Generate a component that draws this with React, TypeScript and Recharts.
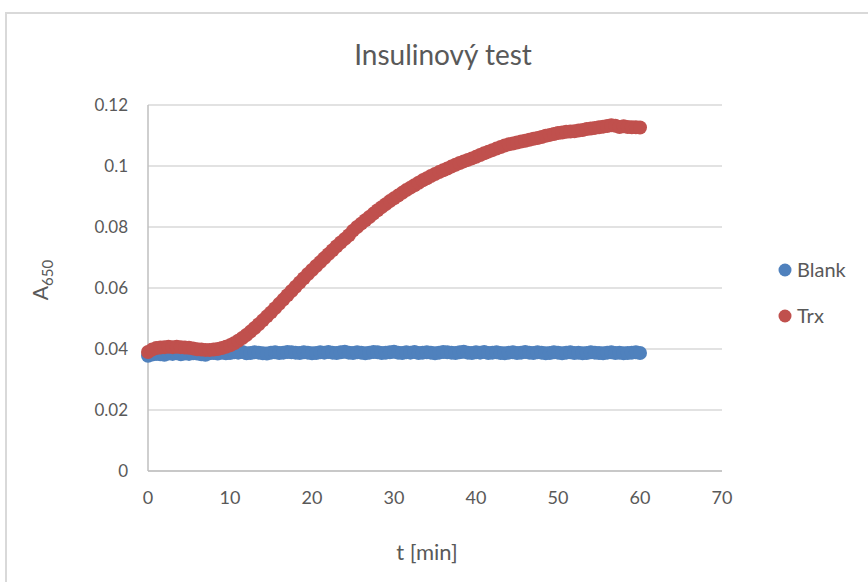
import React from 'react';
import { ScatterChart, Scatter, XAxis, YAxis, CartesianGrid } from 'recharts';

const COLORS = {
  blank: '#4f81bd',
  trx: '#c0504d',
  text: '#595959',
  grid: '#d9d9d9',
  axis: '#bfbfbf',
};

const FONT = 'Lato, "Open Sans", sans-serif';

const TIME = [
  0, 0.5, 1, 1.5, 2, 2.5, 3, 3.5, 4, 4.5, 5, 5.5, 6, 6.5, 7, 7.5, 8, 8.5, 9, 9.5,
  10, 10.5, 11, 11.5, 12, 12.5, 13, 13.5, 14, 14.5, 15, 15.5, 16, 16.5, 17, 17.5, 18, 18.5, 19, 19.5,
  20, 20.5, 21, 21.5, 22, 22.5, 23, 23.5, 24, 24.5, 25, 25.5, 26, 26.5, 27, 27.5, 28, 28.5, 29, 29.5,
  30, 30.5, 31, 31.5, 32, 32.5, 33, 33.5, 34, 34.5, 35, 35.5, 36, 36.5, 37, 37.5, 38, 38.5, 39, 39.5,
  40, 40.5, 41, 41.5, 42, 42.5, 43, 43.5, 44, 44.5, 45, 45.5, 46, 46.5, 47, 47.5, 48, 48.5, 49, 49.5,
  50, 50.5, 51, 51.5, 52, 52.5, 53, 53.5, 54, 54.5, 55, 55.5, 56, 56.5, 57, 57.5, 58, 58.5, 59, 59.5,
  60,
];

const BLANK = [
  0.0378, 0.0382, 0.0384, 0.0383, 0.0381, 0.0385, 0.0384, 0.0386, 0.0383, 0.0385, 0.0384, 0.0386, 0.0385, 0.0383, 0.0381, 0.0386, 0.0387, 0.0385, 0.0388, 0.0386,
  0.0387, 0.0389, 0.0388, 0.0390, 0.0386, 0.0387, 0.0389, 0.0388, 0.0386, 0.0385, 0.0388, 0.0389, 0.0387, 0.0388, 0.0390, 0.0389, 0.0388, 0.0387, 0.0389, 0.0388,
  0.0386, 0.0387, 0.0389, 0.0388, 0.0390, 0.0388, 0.0387, 0.0389, 0.0391, 0.0388, 0.0387, 0.0389, 0.0388, 0.0386, 0.0388, 0.0390, 0.0389, 0.0387, 0.0388, 0.0389,
  0.0391, 0.0388, 0.0387, 0.0389, 0.0388, 0.0390, 0.0387, 0.0388, 0.0389, 0.0388, 0.0386, 0.0388, 0.0390, 0.0389, 0.0388, 0.0387, 0.0389, 0.0391, 0.0388, 0.0387,
  0.0389, 0.0388, 0.0390, 0.0387, 0.0388, 0.0389, 0.0387, 0.0386, 0.0388, 0.0389, 0.0387, 0.0388, 0.0390, 0.0388, 0.0387, 0.0389, 0.0388, 0.0386, 0.0387, 0.0389,
  0.0388, 0.0386, 0.0388, 0.0389, 0.0387, 0.0388, 0.0386, 0.0387, 0.0389, 0.0388, 0.0387, 0.0386, 0.0388, 0.0389, 0.0387, 0.0388, 0.0386, 0.0387, 0.0388, 0.0389,
  0.0387,
];

const TRX = [
  0.0390, 0.0398, 0.0403, 0.0405, 0.0406, 0.0407, 0.0406, 0.0407, 0.0406, 0.0405, 0.0404, 0.0402, 0.0399, 0.0398, 0.0397, 0.0397, 0.0398, 0.0400, 0.0403, 0.0407,
  0.0412, 0.0419, 0.0427, 0.0436, 0.0446, 0.0457, 0.0469, 0.0481, 0.0494, 0.0507, 0.0520, 0.0534, 0.0548, 0.0562, 0.0576, 0.0590, 0.0604, 0.0618, 0.0632, 0.0646,
  0.0659, 0.0672, 0.0685, 0.0698, 0.0711, 0.0724, 0.0737, 0.0749, 0.0761, 0.0773, 0.0788, 0.0800, 0.0811, 0.0822, 0.0833, 0.0844, 0.0855, 0.0865, 0.0875, 0.0885,
  0.0894, 0.0903, 0.0912, 0.0921, 0.0929, 0.0937, 0.0945, 0.0953, 0.0960, 0.0967, 0.0974, 0.0980, 0.0986, 0.0992, 0.0998, 0.1004, 0.1010, 0.1015, 0.1020, 0.1025,
  0.1030, 0.1036, 0.1042, 0.1047, 0.1052, 0.1057, 0.1062, 0.1067, 0.1071, 0.1074, 0.1077, 0.1080, 0.1083, 0.1086, 0.1089, 0.1092, 0.1095, 0.1099, 0.1102, 0.1105,
  0.1108, 0.1110, 0.1112, 0.1113, 0.1114, 0.1116, 0.1118, 0.1121, 0.1123, 0.1125, 0.1127, 0.1129, 0.1131, 0.1134, 0.1132, 0.1128, 0.1130, 0.1128, 0.1127, 0.1127,
  0.1126,
];

const X_TICKS = [0, 10, 20, 30, 40, 50, 60, 70];
const Y_TICKS = [0, 0.02, 0.04, 0.06, 0.08, 0.1, 0.12];

const blankData = TIME.map((t, i) => ({ t, a: BLANK[i] }));
const trxData = TIME.map((t, i) => ({ t, a: TRX[i] }));

const dot = (color: string) => (props: any) => (
  <circle cx={props.cx} cy={props.cy} r={7} fill={color} />
);

export default function App() {
  return (
    <div style={{ position: 'absolute', left: 0, top: 0, width: 868, height: 582, overflow: 'hidden', background: '#fff' }}>
      <div
        style={{
          position: 'absolute',
          left: 5,
          top: 12,
          width: 900,
          height: 600,
          border: '2px solid #d9d9d9',
        }}
      />
      <div style={{ position: 'absolute', left: 0, top: 0 }}>
        <ScatterChart
          width={868}
          height={582}
          margin={{ top: 105, right: 146, bottom: 66, left: 88 }}
          style={{ fontFamily: FONT }}
        >
          <CartesianGrid vertical={false} stroke={COLORS.grid} strokeWidth={1.5} />
          <XAxis
            type="number"
            dataKey="t"
            domain={[0, 70]}
            ticks={X_TICKS}
            height={45}
            tickLine={false}
            tickSize={0}
            tickMargin={20}
            axisLine={{ stroke: COLORS.axis, strokeWidth: 1.5 }}
            tick={{ fill: COLORS.text, fontSize: 18 }}
          />
          <YAxis
            type="number"
            dataKey="a"
            domain={[0, 0.12]}
            ticks={Y_TICKS}
            width={60}
            tickLine={false}
            tickSize={0}
            tickMargin={20}
            axisLine={{ stroke: COLORS.axis, strokeWidth: 1.5 }}
            tick={{ fill: COLORS.text, fontSize: 17 }}
          />
          <Scatter name="Blank" data={blankData} fill={COLORS.blank} shape={dot(COLORS.blank)} isAnimationActive={false} />
          <Scatter name="Trx" data={trxData} fill={COLORS.trx} shape={dot(COLORS.trx)} isAnimationActive={false} />
        </ScatterChart>
      </div>
      <svg
        width={868}
        height={582}
        style={{ position: 'absolute', left: 0, top: 0, pointerEvents: 'none', fontFamily: FONT }}
      >
        <text x={443} y={65} textAnchor="middle" fontSize={28} fill={COLORS.text}>
          Insulinový test
        </text>
        <text x={427} y={560} textAnchor="middle" fontSize={22} fill={COLORS.text}>
          t [min]
        </text>
        <text x={48} y={280} textAnchor="middle" fontSize={21} fill={COLORS.text} transform="rotate(-90 48 280)">
          <tspan>A</tspan>
          <tspan fontSize={15} dy={5}>650</tspan>
        </text>
        <circle cx={785} cy={270} r={6.5} fill={COLORS.blank} />
        <text x={797} y={277} fontSize={20} fill={COLORS.text}>Blank</text>
        <circle cx={785} cy={316} r={6.5} fill={COLORS.trx} />
        <text x={797} y={323} fontSize={20} fill={COLORS.text}>Trx</text>
      </svg>
    </div>
  );
}
